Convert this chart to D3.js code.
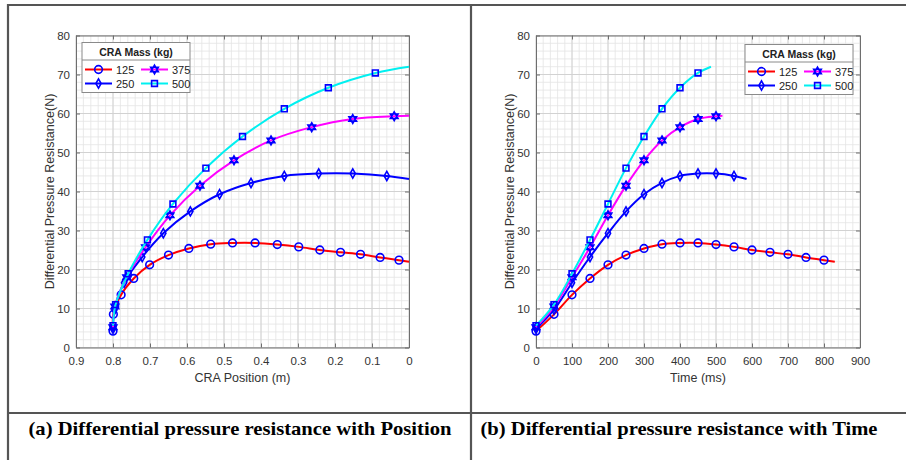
<!DOCTYPE html>
<html>
<head>
<meta charset="utf-8">
<script src="https://cdn.jsdelivr.net/npm/d3@7"></script>
<style>
  body { margin: 0; background: #fff; }
  svg { display: block; font-family: 'Liberation Sans', Arial, sans-serif; }
</style>
</head>
<body>
<div id="chart"></div>
<script>
// values (time in ms, CRA position in m, force in N)
const massLabels = ['125', '250', '375', '500']

const time125 = [0, 50, 100, 150, 200, 250, 300, 350, 400, 450, 500, 550, 600, 650, 700, 750, 800, 830]
const pos125 = [0.8, 0.799, 0.778, 0.744, 0.701, 0.65, 0.595, 0.536, 0.477, 0.416, 0.356, 0.298, 0.241, 0.185, 0.131, 0.078, 0.027, 0]
const force125 = [4.2, 8.5, 13.5, 17.7, 21.2, 23.7, 25.4, 26.5, 26.8, 26.8, 26.4, 25.8, 25.0, 24.4, 23.9, 23.1, 22.4, 22.0]

const time250 = [0, 50, 100, 150, 200, 250, 300, 350, 400, 450, 500, 550, 585]
const pos250 = [0.8, 0.796, 0.77, 0.721, 0.664, 0.591, 0.512, 0.427, 0.337, 0.244, 0.152, 0.06, 0]
const force250 = [4.8, 9.7, 16.6, 23.2, 29.3, 34.9, 39.3, 42.2, 44.0, 44.6, 44.6, 44.0, 43.2]

const time375 = [0, 50, 100, 150, 200, 250, 300, 350, 400, 450, 500, 518]
const pos375 = [0.8, 0.795, 0.763, 0.712, 0.646, 0.565, 0.473, 0.373, 0.263, 0.152, 0.04, 0]
const force375 = [5.2, 10.5, 18.0, 25.7, 33.9, 41.5, 48.0, 53.1, 56.5, 58.6, 59.3, 59.4]

const time500 = [0, 50, 100, 150, 200, 250, 300, 350, 400, 450, 486]
const pos500 = [0.8, 0.793, 0.759, 0.707, 0.638, 0.549, 0.45, 0.337, 0.218, 0.091, 0]
const force500 = [5.6, 11.0, 18.9, 27.6, 36.8, 46.0, 54.1, 61.2, 66.6, 70.4, 72.0]

const posTicks = [0.9, 0.8, 0.7, 0.6, 0.5, 0.4, 0.3, 0.2, 0.1, 0]
const timeTicks = [0, 100, 200, 300, 400, 500, 600, 700, 800, 900]
const forceTicks = [0, 10, 20, 30, 40, 50, 60, 70, 80]

const captionA = '(a) Differential pressure resistance with Position'
const captionB = '(b) Differential pressure resistance with Time'

const series = [
  { name: massLabels[0], time: time125, pos: pos125, force: force125, color: '#ff0000', marker: 'circle' },
  { name: massLabels[1], time: time250, pos: pos250, force: force250, color: '#0000ff', marker: 'diamond' },
  { name: massLabels[2], time: time375, pos: pos375, force: force375, color: '#ff00ff', marker: 'hexagram' },
  { name: massLabels[3], time: time500, pos: pos500, force: force500, color: '#00f0f0', marker: 'square' }
]

const W = 906
const H = 460
const svg = d3.select('#chart').append('svg').attr('width', W).attr('height', H)

// marker shapes (MATLAB style, blue outline)
function markerPath (type) {
  if (type === 'circle') return d3.symbol(d3.symbolCircle, 46)()
  if (type === 'square') return 'M-2.9,-2.9H2.9V2.9H-2.9Z'
  if (type === 'diamond') return 'M0,-4.6L2.6,0L0,4.6L-2.6,0Z'
  // hexagram: two triangles
  const r = 4.4
  const tri = (a0) => d3.range(3).map(k => {
    const a = a0 + k * 2 * Math.PI / 3
    return [r * Math.cos(a), r * Math.sin(a)]
  })
  const p = (pts) => 'M' + pts.map(q => q[0].toFixed(2) + ',' + q[1].toFixed(2)).join('L') + 'Z'
  return p(tri(-Math.PI / 2)) + p(tri(Math.PI / 2))
}

function drawPanel (cfg) {
  const g = svg.append('g')
  const x = d3.scaleLinear().domain(cfg.xDomain).range([cfg.left, cfg.right])
  const y = d3.scaleLinear().domain([0, 80]).range([cfg.bottom, cfg.top])

  // minor grid
  const xStep = Math.abs(cfg.xTicks[1] - cfg.xTicks[0]) / 5
  const xMin = Math.min(...cfg.xDomain)
  const xMax = Math.max(...cfg.xDomain)
  const xMinor = d3.range(xMin, xMax + xStep / 2, xStep)
  const yMinor = d3.range(0, 80.001, 2)
  g.append('g').selectAll('line').data(xMinor).join('line')
    .attr('x1', d => x(d)).attr('x2', d => x(d))
    .attr('y1', cfg.top).attr('y2', cfg.bottom)
    .attr('stroke', '#e4e4e4').attr('stroke-width', 0.8)
  g.append('g').selectAll('line').data(yMinor).join('line')
    .attr('y1', d => y(d)).attr('y2', d => y(d))
    .attr('x1', cfg.left).attr('x2', cfg.right)
    .attr('stroke', '#e4e4e4').attr('stroke-width', 0.8)
  // major grid
  g.append('g').selectAll('line').data(cfg.xTicks).join('line')
    .attr('x1', d => x(d)).attr('x2', d => x(d))
    .attr('y1', cfg.top).attr('y2', cfg.bottom)
    .attr('stroke', '#d2d2d2').attr('stroke-width', 1)
  g.append('g').selectAll('line').data(forceTicks).join('line')
    .attr('y1', d => y(d)).attr('y2', d => y(d))
    .attr('x1', cfg.left).attr('x2', cfg.right)
    .attr('stroke', '#d2d2d2').attr('stroke-width', 1)

  // axes (ticks inside, box on)
  const tickLen = 4
  const bottomAxis = g.append('g').attr('transform', `translate(0,${cfg.bottom})`)
    .call(d3.axisBottom(x).tickValues(cfg.xTicks).tickSizeInner(-tickLen).tickSizeOuter(0).tickPadding(9).tickFormat(cfg.xFormat))
  const leftAxis = g.append('g').attr('transform', `translate(${cfg.left},0)`)
    .call(d3.axisLeft(y).tickValues(forceTicks).tickSizeInner(-tickLen).tickSizeOuter(0).tickPadding(6))
  g.append('g').attr('transform', `translate(0,${cfg.top})`)
    .call(d3.axisTop(x).tickValues(cfg.xTicks).tickSizeInner(-tickLen).tickSizeOuter(0).tickFormat(''))
  g.append('g').attr('transform', `translate(${cfg.right},0)`)
    .call(d3.axisRight(y).tickValues(forceTicks).tickSizeInner(-tickLen).tickSizeOuter(0).tickFormat(''))
  g.selectAll('.domain').attr('stroke', '#6e6e6e')
  g.selectAll('.tick line').attr('stroke', '#6e6e6e')
  ;[bottomAxis, leftAxis].forEach(a => a.selectAll('text')
    .attr('fill', '#333').style('font-size', '11.5px').style('font-family', "'Liberation Sans', Arial, sans-serif"))

  g.append('text')
    .attr('x', (cfg.left + cfg.right) / 2).attr('y', 382)
    .attr('text-anchor', 'middle').attr('fill', '#333').style('font-size', '12.5px')
    .text(cfg.xLabel)
  g.append('text')
    .attr('transform', `translate(${cfg.yLabelX},${(cfg.top + cfg.bottom) / 2}) rotate(-90)`)
    .attr('text-anchor', 'middle').attr('fill', '#333').style('font-size', '12.5px')
    .text('Differential Pressure Resistance(N)')

  // curves + markers
  const line = d3.line()
    .x(d => x(d[0])).y(d => y(d[1]))
    .curve(d3.curveCatmullRom.alpha(0.5))
  series.forEach(s => {
    const pts = s[cfg.xKey].map((v, i) => [v, s.force[i]])
    g.append('path').datum(pts)
      .attr('d', line).attr('fill', 'none')
      .attr('stroke', s.color).attr('stroke-width', 2)
    // last point is the curve end (CRA reaches 0 m), not a sample marker
    g.append('g').selectAll('path').data(pts.slice(0, -1)).join('path')
      .attr('transform', d => `translate(${x(d[0])},${y(d[1])})`)
      .attr('d', markerPath(s.marker))
      .attr('fill', 'none').attr('stroke', '#0000ff').attr('stroke-width', 1.6)
  })

  // legend
  const lg = g.append('g').attr('transform', `translate(${cfg.legend[0]},${cfg.legend[1]})`)
  const lw = 108
  const lh = 50
  lg.append('rect').attr('width', lw).attr('height', lh)
    .attr('fill', '#fff').attr('stroke', '#8a8a8a').attr('stroke-width', 1)
  lg.append('line').attr('x1', 0).attr('x2', lw).attr('y1', 17.5).attr('y2', 17.5)
    .attr('stroke', '#8a8a8a').attr('stroke-width', 1)
  lg.append('text').attr('x', lw / 2).attr('y', 13)
    .attr('text-anchor', 'middle').style('font-size', '10.5px').style('font-weight', 'bold')
    .attr('fill', '#222').text('CRA Mass (kg)')
  const order = [0, 2, 1, 3]
  order.forEach((si, k) => {
    const s = series[si]
    const col = k % 2
    const row = Math.floor(k / 2)
    const ox = 3 + col * 56
    const oy = 27 + row * 14
    lg.append('line').attr('x1', ox).attr('x2', ox + 27).attr('y1', oy).attr('y2', oy)
      .attr('stroke', s.color).attr('stroke-width', 2)
    lg.append('path').attr('transform', `translate(${ox + 13.5},${oy})`)
      .attr('d', markerPath(s.marker))
      .attr('fill', 'none').attr('stroke', '#0000ff').attr('stroke-width', 1.6)
    lg.append('text').attr('x', ox + 31).attr('y', oy + 4)
      .style('font-size', '11px').attr('fill', '#222').text(s.name)
  })
}

// table frame around the two figures
const frame = svg.append('g').attr('stroke', '#555').attr('stroke-width', 2.2)
frame.append('line').attr('x1', 8).attr('x2', W).attr('y1', 5).attr('y2', 5)
frame.append('line').attr('x1', 8).attr('x2', 8).attr('y1', 4).attr('y2', H)
frame.append('line').attr('x1', 471).attr('x2', 471).attr('y1', 5).attr('y2', H)
frame.append('line').attr('x1', 8).attr('x2', W).attr('y1', 413).attr('y2', 413)

drawPanel({
  left: 76, right: 409, top: 35.5, bottom: 347.5,
  xDomain: [0.9, 0], xTicks: posTicks, xKey: 'pos',
  xFormat: d => d === 0 ? '0' : d3.format('.1f')(d),
  xLabel: 'CRA Position (m)', yLabelX: 54, legend: [82, 42.5]
})
drawPanel({
  left: 536, right: 860, top: 35.5, bottom: 347.5,
  xDomain: [0, 900], xTicks: timeTicks, xKey: 'time',
  xFormat: d3.format('d'),
  xLabel: 'Time (ms)', yLabelX: 514, legend: [745, 44.5]
})

// captions
svg.append('text').attr('x', 240).attr('y', 435)
  .attr('text-anchor', 'middle').attr('textLength', 423).attr('lengthAdjust', 'spacingAndGlyphs')
  .style('font-family', "'Liberation Serif', 'Times New Roman', serif").style('font-weight', 'bold').style('font-size', '19px')
  .text(captionA)
svg.append('text').attr('x', 679).attr('y', 435)
  .attr('text-anchor', 'middle').attr('textLength', 397).attr('lengthAdjust', 'spacingAndGlyphs')
  .style('font-family', "'Liberation Serif', 'Times New Roman', serif").style('font-weight', 'bold').style('font-size', '19px')
  .text(captionB)
</script>
</body>
</html>
